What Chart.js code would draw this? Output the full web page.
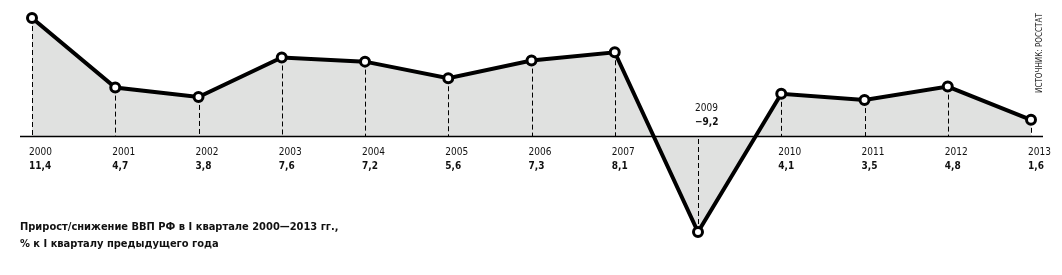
<!DOCTYPE html>
<html>
<head>
<meta charset="utf-8">
<script src="https://cdn.jsdelivr.net/npm/chart.js@4.4.1/dist/chart.umd.min.js"></script>
<style>
  body { margin: 0; background: #fff; }
  #wrap { position: relative; width: 1062px; height: 275px; }
  #title { position: absolute; left: 20px; top: 218px; font: bold 11px "DejaVu Sans Condensed", "DejaVu Sans", sans-serif; line-height: 17px; color: #111; }
  #source { position: absolute; left: 1040px; top: 15px; font: 8px "DejaVu Sans Condensed", sans-serif; color: #222;
            transform-origin: 0 0; transform: translate(-5px, 78px) rotate(-90deg); white-space: nowrap; }
</style>
</head>
<body>
<div id="wrap">
  <canvas id="myChart" width="1062" height="275"></canvas>
  <div id="title">Прирост/снижение ВВП РФ в I квартале 2000—2013 гг.,<br>% к I кварталу предыдущего года</div>
  <div id="source">ИСТОЧНИК: РОССТАТ</div>
</div>
<script>
var years = ["2000", "2001", "2002", "2003", "2004", "2005", "2006", "2007", "2009", "2010", "2011", "2012", "2013"];
var growth = [11.4, 4.7, 3.8, 7.6, 7.2, 5.6, 7.3, 8.1, -9.2, 4.1, 3.5, 4.8, 1.6];
var valueLabels = ["11,4", "4,7", "3,8", "7,6", "7,2", "5,6", "7,3", "8,1", "−9,2", "4,1", "3,5", "4,8", "1,6"];

// baseline, dashed drop lines (after the fill, under the line) and captions
var decor = {
    id: "decor",
    beforeDatasetDraw: function (chart) {
        var ctx = chart.ctx;
        var zero = chart.scales.y.getPixelForValue(0);
        var meta = chart.getDatasetMeta(0);
        ctx.save();
        ctx.strokeStyle = "#000";
        ctx.lineWidth = 1;
        ctx.setLineDash([5, 3]);
        meta.data.forEach(function (pt) {
            ctx.beginPath();
            ctx.moveTo(Math.round(pt.x) + 0.5, pt.y);
            ctx.lineTo(Math.round(pt.x) + 0.5, zero);
            ctx.stroke();
        });
        ctx.setLineDash([]);
        ctx.lineWidth = 1.5;
        ctx.beginPath();
        ctx.moveTo(20, zero);
        ctx.lineTo(1043, zero);
        ctx.stroke();
        ctx.restore();
    },
    afterDatasetsDraw: function (chart) {
        var ctx = chart.ctx;
        var meta = chart.getDatasetMeta(0);
        ctx.save();
        ctx.fillStyle = "#111";
        ctx.textAlign = "left";
        ctx.textBaseline = "middle";
        meta.data.forEach(function (pt, i) {
            var x = pt.x - 3;
            var y1 = growth[i] < 0 ? 108 : 152;
            ctx.font = "10px 'DejaVu Sans Condensed', sans-serif";
            ctx.fillText(years[i], x, y1);
            ctx.font = "bold 10px 'DejaVu Sans Condensed', sans-serif";
            ctx.fillText(valueLabels[i], x, y1 + 14);
        });
        ctx.restore();
    }
};

new Chart("myChart", {
    type: "line",
    data: {
        labels: years,
        datasets: [{
            data: growth,
            borderColor: "#000",
            borderWidth: 4,
            backgroundColor: "#e0e1e0",
            fill: "origin",
            tension: 0,
            clip: false,
            pointRadius: 4.5,
            pointBorderWidth: 3,
            pointBackgroundColor: "#fff",
            pointBorderColor: "#000"
        }]
    },
    options: {
        responsive: false,
        animation: false,
        layout: { padding: { left: 32, right: 31, top: 18, bottom: 43 } },
        plugins: { legend: { display: false }, tooltip: { enabled: false } },
        scales: {
            x: { display: false, offset: false },
            y: { display: false, min: -9.2, max: 11.4 }
        }
    },
    plugins: [decor]
});
</script>
</body>
</html>
